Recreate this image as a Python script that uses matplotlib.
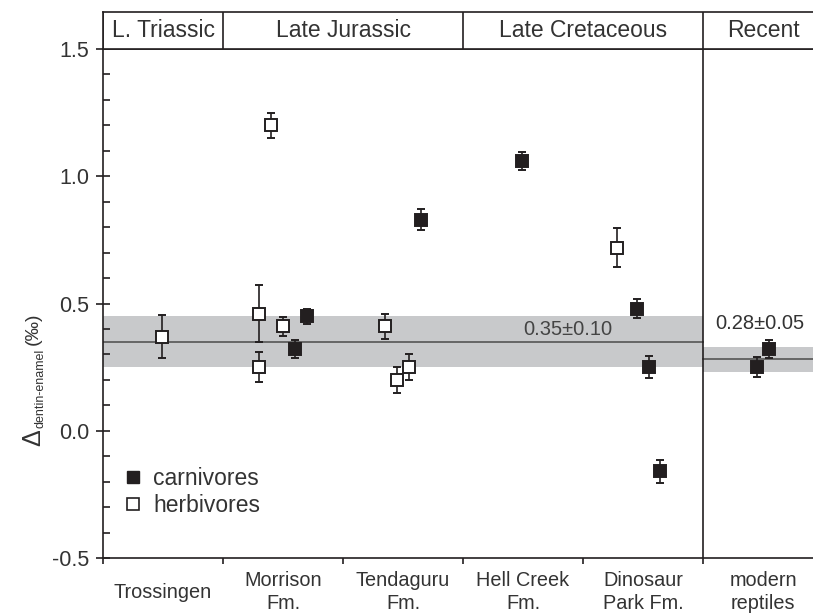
import numpy as np
import matplotlib
matplotlib.use("Agg")
import matplotlib.pyplot as plt
from matplotlib.lines import Line2D

plt.rcParams['font.family'] = ['Liberation Sans', 'DejaVu Sans']

# categories along x
sites = ['Trossingen', 'Morrison\nFm.', 'Tendaguru\nFm.', 'Hell Creek\nFm.',
         'Dinosaur\nPark Fm.', 'modern\nreptiles']
periods = ['L. Triassic', 'Late Jurassic', 'Late Cretaceous', 'Recent']
period_span = [(0, 1), (1, 3), (3, 5), (5, 6)]

# carnivores: site index, offset inside site, value, error
carn_site = [1, 1, 2, 3, 4, 4, 4, 5, 5]
carn_off = [0.10, 0.20, 0.15, -0.01, -0.05, 0.05, 0.14, -0.05, 0.05]
carn_y = [0.32, 0.45, 0.83, 1.06, 0.48, 0.25, -0.16, 0.25, 0.32]
carn_err = [0.035, 0.03, 0.04, 0.035, 0.037, 0.042, 0.044, 0.04, 0.035]

# herbivores
herb_site = [0, 1, 1, 1, 1, 2, 2, 2, 4]
herb_off = [-0.01, -0.10, -0.20, -0.20, 0.00, -0.15, -0.05, 0.05, -0.22]
herb_y = [0.37, 1.20, 0.46, 0.25, 0.41, 0.41, 0.20, 0.25, 0.72]
herb_err = [0.085, 0.05, 0.113, 0.058, 0.038, 0.05, 0.05, 0.05, 0.077]

# mean bands
dino_mean, dino_sd = 0.35, 0.10
rec_mean, rec_sd = 0.28, 0.05

ink = '#231f20'
txt = '#333333'
band = '#c8c9cb'

fig = plt.figure(figsize=(8.13, 6.14), dpi=100)
W, H = 813, 614
x0, x6 = 103, 823
ax = fig.add_axes([x0 / W, (H - 558) / H, (x6 - x0) / W, (558 - 49) / H])
hx = fig.add_axes([x0 / W, (H - 49) / H, (x6 - x0) / W, 37 / H])

ax.set_xlim(0, 6)
ax.set_ylim(-0.5, 1.5)

ax.axhspan(dino_mean - dino_sd, dino_mean + dino_sd, xmin=0, xmax=5 / 6,
           color=band, lw=0, zorder=0)
ax.axhspan(rec_mean - rec_sd, rec_mean + rec_sd, xmin=5 / 6, xmax=1,
           color=band, lw=0, zorder=0)
ax.plot([0, 5], [dino_mean, dino_mean], color='#555555', lw=1.2, zorder=1)
ax.plot([5, 6], [rec_mean, rec_mean], color='#555555', lw=1.2, zorder=1)
ax.axvline(5, color=ink, lw=1.2, zorder=1)

ax.text(3.87, 0.398, f'{dino_mean:.2f}\u00b1{dino_sd:.2f}', ha='center',
        va='center', fontsize=14.5, color='#444444')
ax.text(5.47, 0.42, f'{rec_mean:.2f}\u00b1{rec_sd:.2f}', ha='center',
        va='center', fontsize=14.5, color=txt)

cx = np.array(carn_site) + 0.5 + np.array(carn_off)
hxx = np.array(herb_site) + 0.5 + np.array(herb_off)
ax.errorbar(hxx, herb_y, yerr=herb_err, fmt='s', ms=9, mfc='white', mec=ink,
            mew=1.4, ecolor=ink, elinewidth=1.2, capsize=2.8, capthick=1.2,
            zorder=3)
ax.errorbar(cx, carn_y, yerr=carn_err, fmt='s', ms=9, mfc=ink, mec=ink,
            mew=1.4, ecolor=ink, elinewidth=1.2, capsize=2.8, capthick=1.2,
            zorder=3)

# axes styling
for s in ['top', 'bottom', 'left']:
    ax.spines[s].set_color(ink)
    ax.spines[s].set_linewidth(1.2)
ax.spines['right'].set_visible(False)
ax.set_yticks([-0.5, 0.0, 0.5, 1.0, 1.5])
ax.set_yticklabels(['-0.5', '0.0', '0.5', '1.0', '1.5'])
ax.set_yticks(np.arange(-0.5, 1.51, 0.1), minor=True)
ax.tick_params(axis='y', which='major', direction='inout', length=10,
               width=1.2, color=ink, labelsize=15.5, labelcolor=txt, pad=5)
ax.tick_params(axis='y', which='minor', direction='in', length=5, width=1.2,
               color=ink)
ax.set_xticks(range(7))
ax.set_xticklabels([])
ax.tick_params(axis='x', which='major', direction='out', length=4, width=1.2,
               color=ink)
for i, name in enumerate(sites):
    ax.text(i + 0.5, -0.067, name, transform=ax.get_xaxis_transform(),
            ha='center', va='center', fontsize=14.3, color=txt,
            linespacing=1.3, clip_on=False)

# y label: big delta, small subscript, per-mil unit
fig.text(33 / W, 1 - 446 / H, '\u0394', rotation=90, ha='center',
         va='bottom', fontsize=18, color=txt)
fig.text(41 / W, 1 - 428 / H, 'dentin-enamel', rotation=90, ha='center',
         va='bottom', fontsize=9, color=txt)
fig.text(33 / W, 1 - 345 / H, '(\u2030)', rotation=90, ha='center',
         va='bottom', fontsize=14, color=txt)

handles = [Line2D([], [], ls='none', marker='s', ms=9, mfc=ink, mec=ink),
           Line2D([], [], ls='none', marker='s', ms=9, mfc='white', mec=ink,
                  mew=1.2)]
ax.legend(handles, ['carnivores', 'herbivores'], loc='center left',
          bbox_to_anchor=(0.0, 0.13), frameon=False, fontsize=16.5,
          handlelength=0.8, handletextpad=0.5, labelspacing=0.2,
          labelcolor=txt)

# period header
hx.set_xlim(0, 6)
hx.set_ylim(0, 1)
hx.set_xticks([])
hx.set_yticks([])
for s in hx.spines.values():
    s.set_color(ink)
    s.set_linewidth(1.2)
hx.spines['right'].set_visible(False)
for name, (a, b) in zip(periods, period_span):
    hx.axvline(a, color=ink, lw=1.2)
    hx.text((a + b) / 2, 0.5, name, ha='center', va='center', fontsize=16.5,
            color=txt)

fig.savefig('out.png', dpi=100)
